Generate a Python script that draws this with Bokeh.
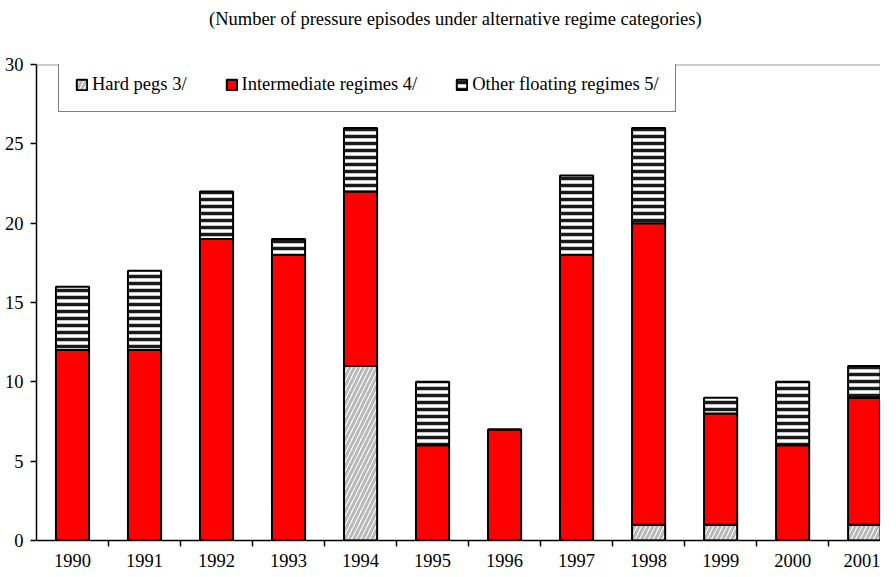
from bokeh.plotting import figure
from bokeh.models import ColumnDataSource, FixedTicker, Range1d, Span, Legend, LegendItem, Div
from bokeh.layouts import column
from bokeh.embed import file_html
from bokeh.resources import INLINE

years = ["1990", "1991", "1992", "1993", "1994", "1995", "1996", "1997", "1998", "1999", "2000", "2001"]
hard_pegs = [0, 0, 0, 0, 11, 0, 0, 0, 1, 1, 0, 1]
intermediate = [12, 12, 19, 18, 11, 6, 7, 18, 19, 7, 6, 8]
other_floating = [4, 5, 3, 1, 4, 4, 0, 5, 6, 1, 4, 2]
title_text = "(Number of pressure episodes under alternative regime categories)"

x = list(range(len(years)))
b1 = [h + i for h, i in zip(hard_pegs, intermediate)]
b2 = [a + f for a, f in zip(b1, other_floating)]

src = ColumnDataSource(dict(x=x, hard=hard_pegs, b1=b1, b2=b2, zero=[0] * len(x)))

SERIF = "Liberation Serif"
FS = "18.5px"

header = Div(text=title_text, width=880, height=24,
             styles={"font-family": SERIF, "font-size": FS, "color": "black",
                     "line-height": "24px", "padding-left": "204px", "padding-top": "2px",
                     "white-space": "nowrap"})

p = figure(width=880, height=535, output_backend="svg", toolbar_location=None,
           x_range=Range1d(-0.5, 11.22), y_range=Range1d(0, 30))
p.min_border_left = 36
p.min_border_right = 0
p.min_border_top = 30
p.min_border_bottom = 28
p.outline_line_color = None
p.xgrid.grid_line_color = None
p.ygrid.grid_line_color = None
p.background_fill_color = "white"
p.border_fill_color = "white"

w = 0.46
r1 = p.vbar(x="x", bottom="zero", top="hard", width=w, source=src,
            fill_color="white", hatch_pattern="/", hatch_color="#b8b8b8",
            hatch_weight=3, hatch_scale=9, line_color="black", line_width=2)
r2 = p.vbar(x="x", bottom="hard", top="b1", width=w, source=src,
            fill_color="#ff0000", line_color="black", line_width=2)
r3 = p.vbar(x="x", bottom="b1", top="b2", width=w, source=src,
            fill_color="white", hatch_pattern="-", hatch_color="#1a1a1a",
            hatch_weight=3.5, hatch_scale=7, line_color="black", line_width=2)

top_line = Span(location=30, dimension="width", line_color="#999999", line_width=2)
p.add_layout(top_line)

p.yaxis.ticker = FixedTicker(ticks=[0, 5, 10, 15, 20, 25, 30])
p.yaxis.major_tick_out = 6
p.yaxis.major_tick_in = 0
p.yaxis.minor_tick_line_color = None
p.yaxis.axis_line_color = "black"
p.yaxis.axis_line_width = 1.5
p.yaxis.major_tick_line_width = 1.5
p.yaxis.major_label_text_font = SERIF
p.yaxis.major_label_text_font_size = FS
p.yaxis.major_label_text_color = "black"
p.yaxis.major_label_standoff = 7

p.xaxis.ticker = FixedTicker(ticks=x, minor_ticks=[i + 0.5 for i in x])
p.xaxis.major_label_overrides = {i: y for i, y in zip(x, years)}
p.xaxis.major_tick_line_color = None
p.xaxis.major_tick_out = 0
p.xaxis.major_tick_in = 0
p.xaxis.minor_tick_out = 6
p.xaxis.minor_tick_in = 0
p.xaxis.minor_tick_line_color = "black"
p.xaxis.minor_tick_line_width = 1.5
p.xaxis.axis_line_color = "black"
p.xaxis.axis_line_width = 1.5
p.xaxis.major_label_text_font = SERIF
p.xaxis.major_label_text_font_size = FS
p.xaxis.major_label_text_color = "black"
p.xaxis.major_label_standoff = 7

legend = Legend(items=[
    LegendItem(label="Hard pegs 3/", renderers=[r1]),
    LegendItem(label="Intermediate regimes 4/", renderers=[r2]),
    LegendItem(label="Other floating regimes 5/", renderers=[r3]),
], orientation="horizontal", location=(22, 428))
legend.label_text_font = SERIF
legend.label_text_font_size = FS
legend.label_text_color = "black"
legend.glyph_width = 13
legend.glyph_height = 13
legend.label_standoff = 4
legend.spacing = 38
legend.padding = 16
legend.margin = 0
legend.border_line_color = "black"
legend.border_line_width = 1
legend.background_fill_alpha = 1
p.add_layout(legend, "center")

layout = column(header, p, spacing=0)

open("out.html", "w").write(file_html(layout, INLINE))
